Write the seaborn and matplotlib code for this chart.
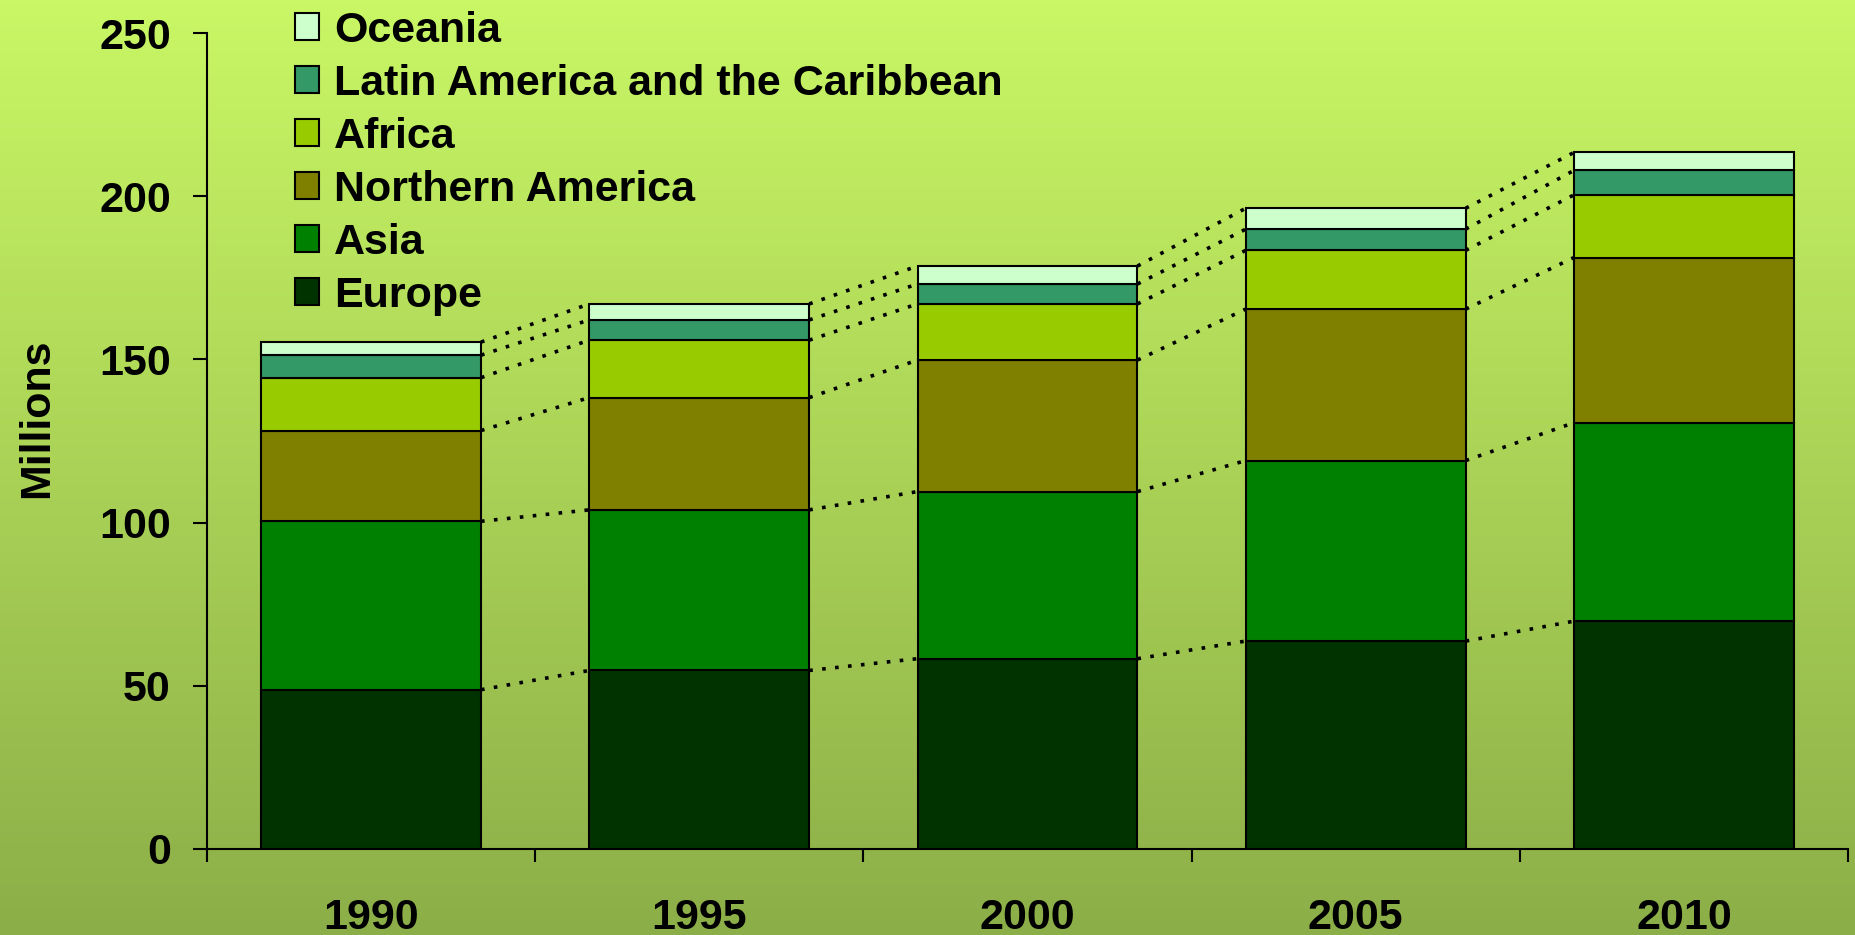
import numpy as np
import matplotlib
matplotlib.use("Agg")
import matplotlib.pyplot as plt
import matplotlib.patches as mpatches
from matplotlib.colors import LinearSegmentedColormap
import seaborn as sns

years = ["1990", "1995", "2000", "2005", "2010"]
regions = ["Europe", "Asia", "Northern America", "Africa",
           "Latin America and the Caribbean", "Oceania"]
europe = [48.8, 54.7, 58.3, 63.7, 69.8]
asia = [51.6, 49.2, 51.2, 55.3, 60.8]
northern_america = [27.8, 34.4, 40.3, 46.4, 50.6]
africa = [16.2, 17.6, 17.2, 18.0, 19.2]
latin_america = [6.9, 6.2, 6.1, 6.5, 7.5]
oceania = [4.0, 4.9, 5.5, 6.4, 5.5]
series = [europe, asia, northern_america, africa, latin_america, oceania]
colors = ["#003300", "#008000", "#808000", "#99CC00", "#339966", "#CCFFCC"]
yticks = [0, 50, 100, 150, 200, 250]

sns.set_theme(style="white")
plt.rcParams['font.family'] = ['Liberation Sans', 'DejaVu Sans']
plt.rcParams['font.weight'] = 'bold'
plt.rcParams['text.color'] = 'black'
plt.rcParams['axes.labelcolor'] = 'black'
plt.rcParams['xtick.color'] = 'black'
plt.rcParams['ytick.color'] = 'black'

FS = 31

fig = plt.figure(figsize=(18.56, 9.35), dpi=100)

# gradient background
bg = fig.add_axes([0, 0, 1, 1], zorder=-10)
cmap = LinearSegmentedColormap.from_list("bg", ["#C9F765", "#8CAE48"])
bg.imshow(np.linspace(0, 1, 256).reshape(-1, 1), aspect="auto", cmap=cmap,
          extent=[0, 1, 0, 1], origin="upper")
bg.set_axis_off()

ax = fig.add_axes([0.1115, 0.092, 0.8842, 0.8727])
ax.patch.set_alpha(0)

width = 0.67
bottom = np.zeros(len(years))
tops = []
for name, vals, c in zip(regions, series, colors):
    sns.barplot(x=years, y=vals, bottom=bottom, color=c, width=width,
                edgecolor="black", linewidth=1.5, errorbar=None, ax=ax,
                saturation=1, zorder=3)
    bottom = bottom + np.array(vals)
    tops.append(bottom.copy())

# series lines
for t in tops:
    for i in range(len(years) - 1):
        ax.plot([i + width / 2, i + 1 - width / 2], [t[i], t[i + 1]],
                color="black", lw=2.6, linestyle=(0, (1.0, 2.6)), zorder=2)

ax.set_xlim(-0.5, len(years) - 0.5)
ax.set_ylim(0, 250)
ax.set_yticks(yticks)
ax.set_yticklabels([str(v) for v in yticks], fontsize=FS, fontweight="bold")
ax.set_xticks(range(len(years)))
ax.set_xticklabels(years, fontsize=FS, fontweight="bold")
ax.set_xticks(np.arange(-0.5, len(years), 1.0), minor=True)
ax.tick_params(axis="x", which="major", length=0, pad=35)
ax.tick_params(axis="x", which="minor", length=9.5, width=1.5, color="black",
               direction="out", bottom=True)
ax.tick_params(axis="y", which="major", length=10, width=1.5, color="black",
               direction="out", left=True, pad=16)
ax.set_xlabel("")
ax.set_ylabel("")
for s in ["top", "right"]:
    ax.spines[s].set_visible(False)
for s in ["left", "bottom"]:
    ax.spines[s].set_color("black")
    ax.spines[s].set_linewidth(1.5)

fig.text(37 / 1856, 1 - 418 / 935, "Millions", rotation=90, fontsize=FS,
         fontweight="bold", ha="center", va="center")

handles = [mpatches.Patch(facecolor=c, edgecolor="black", linewidth=1.5, label=n)
           for n, c in zip(regions, colors)][::-1]
fig.legend(handles=handles, loc="upper left", bbox_to_anchor=(295 / 1856, 1 - 11 / 935),
           frameon=False, handlelength=0.56, handleheight=0.58,
           handletextpad=0.35, labelspacing=0.30, borderaxespad=0, borderpad=0,
           prop={"weight": "bold", "size": FS})

fig.savefig("out.png", dpi=100)
